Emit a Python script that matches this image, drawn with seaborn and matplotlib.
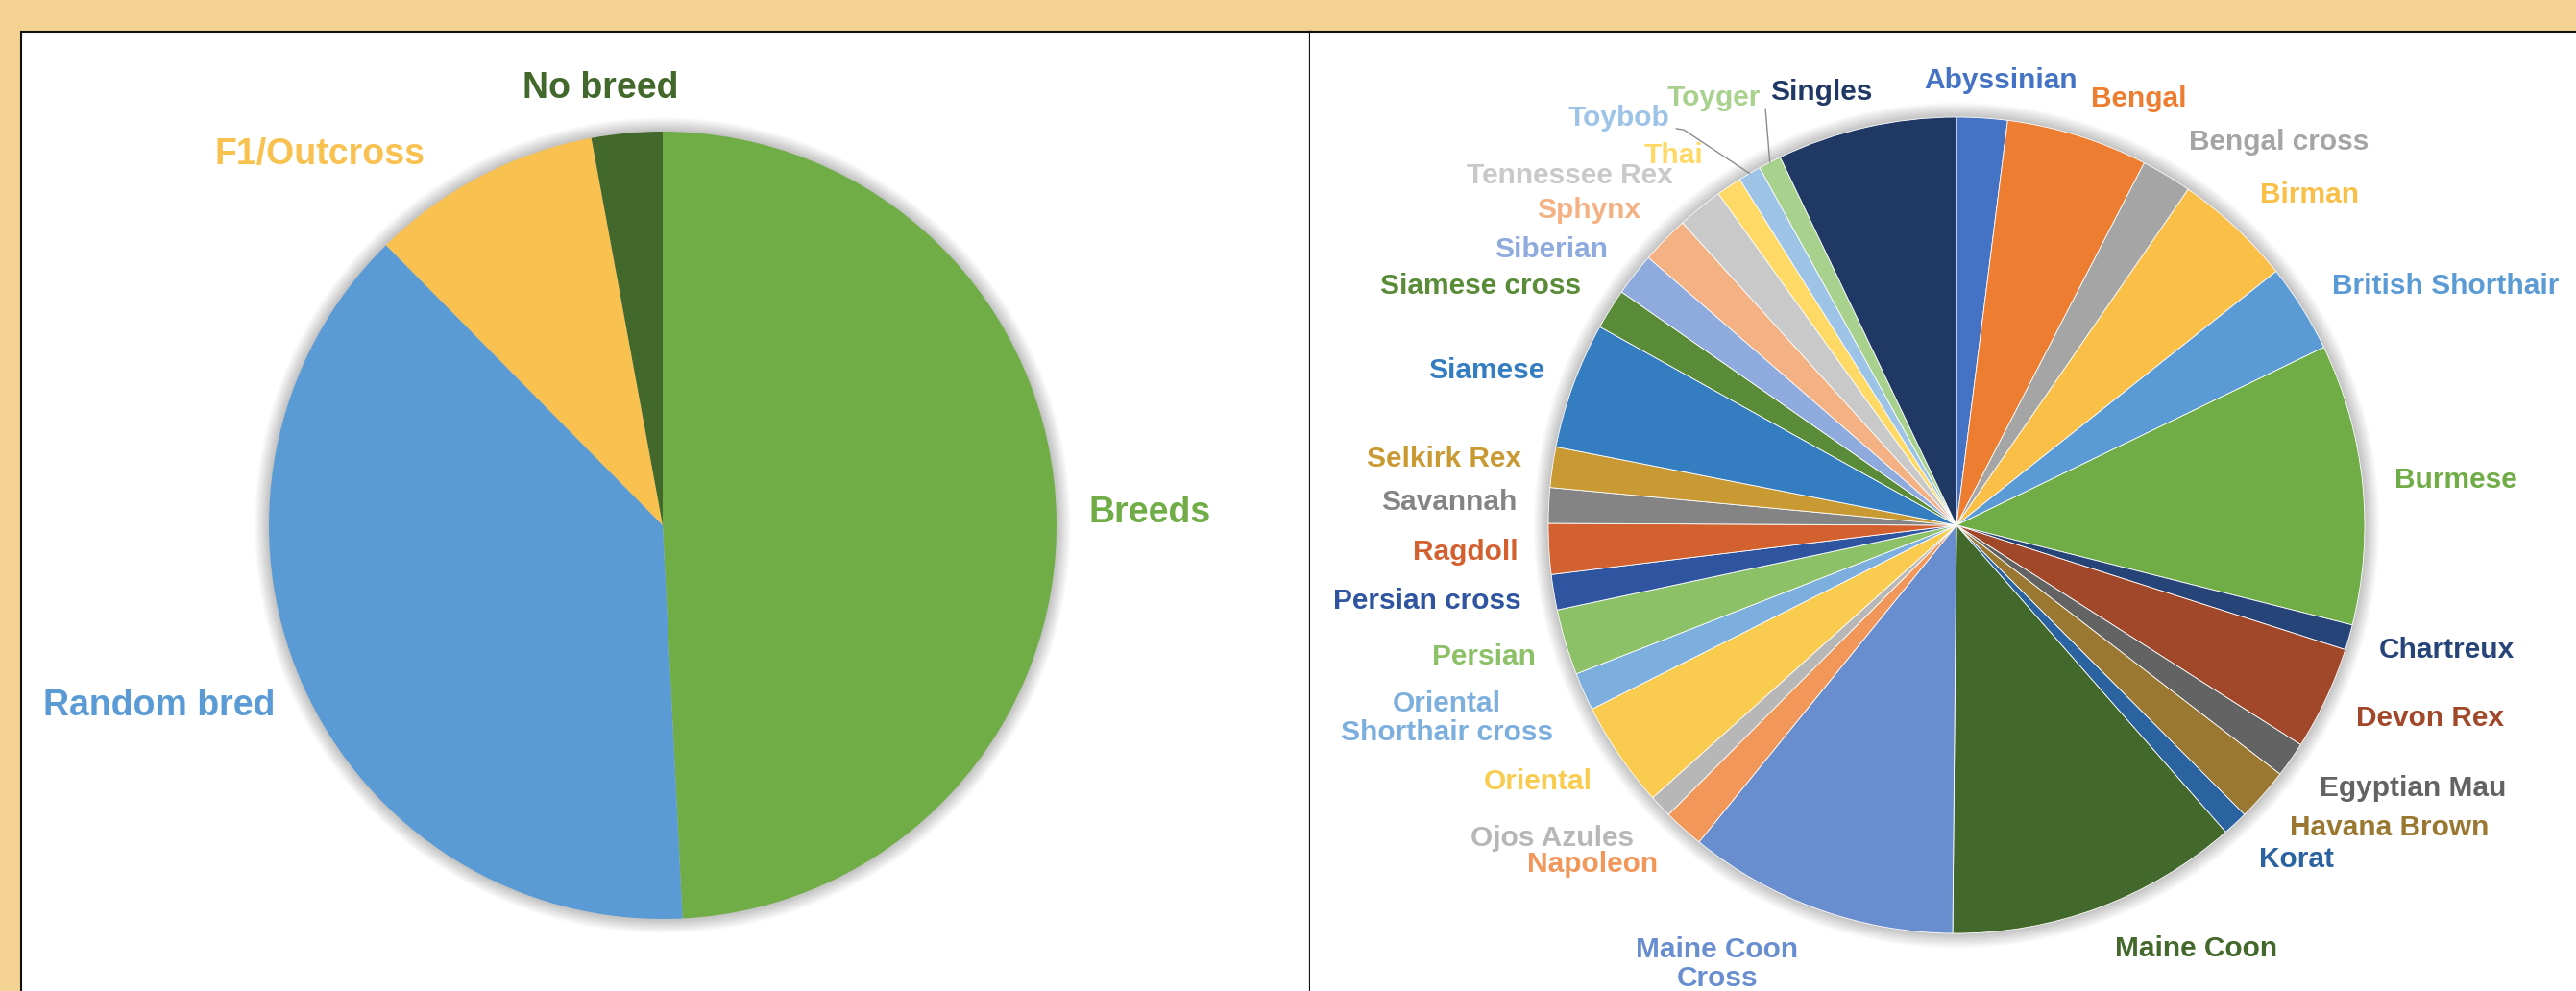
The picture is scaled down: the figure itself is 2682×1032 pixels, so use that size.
import numpy as np
import pandas as pd
import seaborn as sns
import matplotlib.pyplot as plt
from matplotlib.patches import Circle

sns.set_theme(style="white")
plt.rcParams['font.family'] = ['Liberation Sans', 'DejaVu Sans']

# ---------------------------------------------------------------- data
origin_groups = ["Breeds", "Random bred", "F1/Outcross", "No breed"]
origin_share = [49.2, 38.4, 9.5, 2.9]
origin_colors = ["#70AD47", "#5B9BD5", "#F8C150", "#43682B"]

breeds = [
    "Abyssinian", "Bengal", "Bengal cross", "Birman", "British Shorthair",
    "Burmese", "Chartreux", "Devon Rex", "Egyptian Mau", "Havana Brown",
    "Korat", "Maine Coon", "Maine Coon\nCross", "Napoleon", "Ojos Azules",
    "Oriental", "Oriental\nShorthair cross", "Persian", "Persian cross",
    "Ragdoll", "Savannah", "Selkirk Rex", "Siamese", "Siamese cross",
    "Siberian", "Sphynx", "Tennessee Rex", "Thai", "Toybob", "Toyger",
    "Singles",
]
breed_share = [
    2.0, 5.6, 2.0, 4.7, 3.5,
    11.1, 1.0, 4.1, 1.4, 2.1,
    1.0, 11.6, 10.7, 1.6, 0.9,
    4.2, 1.5, 2.6, 1.4,
    2.0, 1.4, 1.6, 5.0, 1.6,
    1.7, 1.9, 1.8, 1.0, 0.9, 0.9,
    7.1,
]
breed_colors = [
    "#4472C4", "#ED7D31", "#A5A5A5", "#F9BF47", "#5B9BD5",
    "#70AD47", "#264478", "#A1482A", "#636363", "#9A7831",
    "#2A63A0", "#43682B", "#698ED0", "#F1975A", "#B7B7B7",
    "#F9CB4F", "#7CAFDD", "#8CC168", "#2F55A0",
    "#D3602F", "#848484", "#C99A33", "#347DC1", "#5A8B38",
    "#8FAADC", "#F4B183", "#C9C9C9", "#FFD966", "#9DC3E6", "#A9D18E",
    "#1F3864",
]

origin_df = pd.DataFrame({"group": origin_groups, "share": origin_share,
                          "color": origin_colors})
breed_df = pd.DataFrame({"breed": breeds, "share": breed_share,
                         "color": breed_colors})

# ---------------------------------------------------------------- layout
W, H, DPI = 2682, 1032, 100
BG = "#F4D292"
PANEL_TOP = 33          # px from the top edge
SPLIT = 1364            # px, border between the two panels

# label centres, in units of the pie radius
origin_label_xy = {
    "Breeds": (1.237, 0.032),
    "Random bred": (-1.280, -0.459),
    "F1/Outcross": (-0.871, 0.941),
    "No breed": (-0.159, 1.110),
}
breed_label_xy = {
    "Abyssinian": (0.108, 1.089),
    "Bengal": (0.447, 1.045),
    "Bengal cross": (0.791, 0.939),
    "Birman": (0.864, 0.809),
    "British Shorthair": (1.198, 0.586),
    "Burmese": (1.224, 0.111),
    "Chartreux": (1.202, -0.306),
    "Devon Rex": (1.160, -0.473),
    "Egyptian Mau": (1.118, -0.645),
    "Havana Brown": (1.061, -0.741),
    "Korat": (0.833, -0.819),
    "Maine Coon": (0.588, -1.038),
    "Maine Coon\nCross": (-0.586, -1.075),
    "Napoleon": (-0.892, -0.831),
    "Ojos Azules": (-0.991, -0.767),
    "Oriental": (-1.026, -0.628),
    "Oriental\nShorthair cross": (-1.249, -0.473),
    "Persian": (-1.158, -0.322),
    "Persian cross": (-1.296, -0.186),
    "Ragdoll": (-1.202, -0.066),
    "Savannah": (-1.242, 0.056),
    "Selkirk Rex": (-1.256, 0.162),
    "Siamese": (-1.151, 0.379),
    "Siamese cross": (-1.165, 0.586),
    "Siberian": (-0.993, 0.675),
    "Sphynx": (-0.901, 0.772),
    "Tennessee Rex": (-0.948, 0.856),
    "Thai": (-0.692, 0.907),
    "Toybob": (-0.828, 0.998),
    "Toyger": (-0.595, 1.047),
    "Singles": (-0.332, 1.061),
}
# leader lines: start points (pie-radius units); they end on the wedge
leader_start = {
    "Toybob": [(-0.687, 0.972), (-0.668, 0.969)],
    "Toyger": [(-0.468, 1.021)],
}

fig = plt.figure(figsize=(W / DPI, H / DPI), dpi=DPI)
fig.patch.set_facecolor(BG)


def panel_axes(x0, x1):
    return fig.add_axes([x0 / W, 0, (x1 - x0) / W, (H - PANEL_TOP) / H])


def frame_panel(ax, x0, x1, cx, cy, R, spines):
    # map data units (pie radius = 1) to pixels for this panel
    ax.set_xlim((x0 - cx) / R, (x1 - cx) / R)
    ax.set_ylim((cy - H) / R, (cy - PANEL_TOP) / R)
    ax.set_aspect("auto")
    ax.set_autoscale_on(False)
    ax.set_xticks([])
    ax.set_yticks([])
    ax.set_frame_on(True)
    ax.set_facecolor("white")
    for side, sp in ax.spines.items():
        if side in spines:
            sp.set_visible(True)
            sp.set_color("#111111")
            sp.set_linewidth(spines[side])
        else:
            sp.set_visible(False)


def soft_shadow(ax):
    for k in range(12):
        ax.add_patch(Circle((0, 0), 1 + 0.003 * (k + 1), color="black",
                            alpha=0.02, lw=0, zorder=0.5))


# ---------------------------------------------------------------- left pie
axL = panel_axes(22, SPLIT)
soft_shadow(axL)
axL.pie(origin_df["share"], colors=origin_df["color"], startangle=90,
        counterclock=False, radius=1,
        wedgeprops=dict(linewidth=0, antialiased=True))
frame_panel(axL, 22, SPLIT, 690, 547, 410,
            {"left": 1.5, "top": 1.5, "right": 2.3})
for name, col in zip(origin_df["group"], origin_df["color"]):
    x, y = origin_label_xy[name]
    axL.text(x, y, name, ha="center", va="center", fontsize=27,
             fontweight="bold", color=col)

# ---------------------------------------------------------------- right pie
axR = panel_axes(SPLIT, W)
soft_shadow(axR)
wedges, _ = axR.pie(breed_df["share"], colors=breed_df["color"],
                    startangle=90, counterclock=False, radius=1,
                    wedgeprops=dict(linewidth=0.6, edgecolor="white"))
frame_panel(axR, SPLIT, W, 2037, 547, 425, {"top": 1.5})
for name, col in zip(breed_df["breed"], breed_df["color"]):
    x, y = breed_label_xy[name]
    axR.text(x, y, name, ha="center", va="center", fontsize=21.5,
             fontweight="bold", color=col, linespacing=1.1)

for name, pts in leader_start.items():
    w = wedges[breeds.index(name)]
    mid = np.deg2rad((w.theta1 + w.theta2) / 2)
    xs = [p[0] for p in pts] + [np.cos(mid)]
    ys = [p[1] for p in pts] + [np.sin(mid)]
    axR.plot(xs, ys, color="#8C8C8C", lw=1.0, zorder=3)

fig.savefig("out.png", dpi=DPI, facecolor=BG)
